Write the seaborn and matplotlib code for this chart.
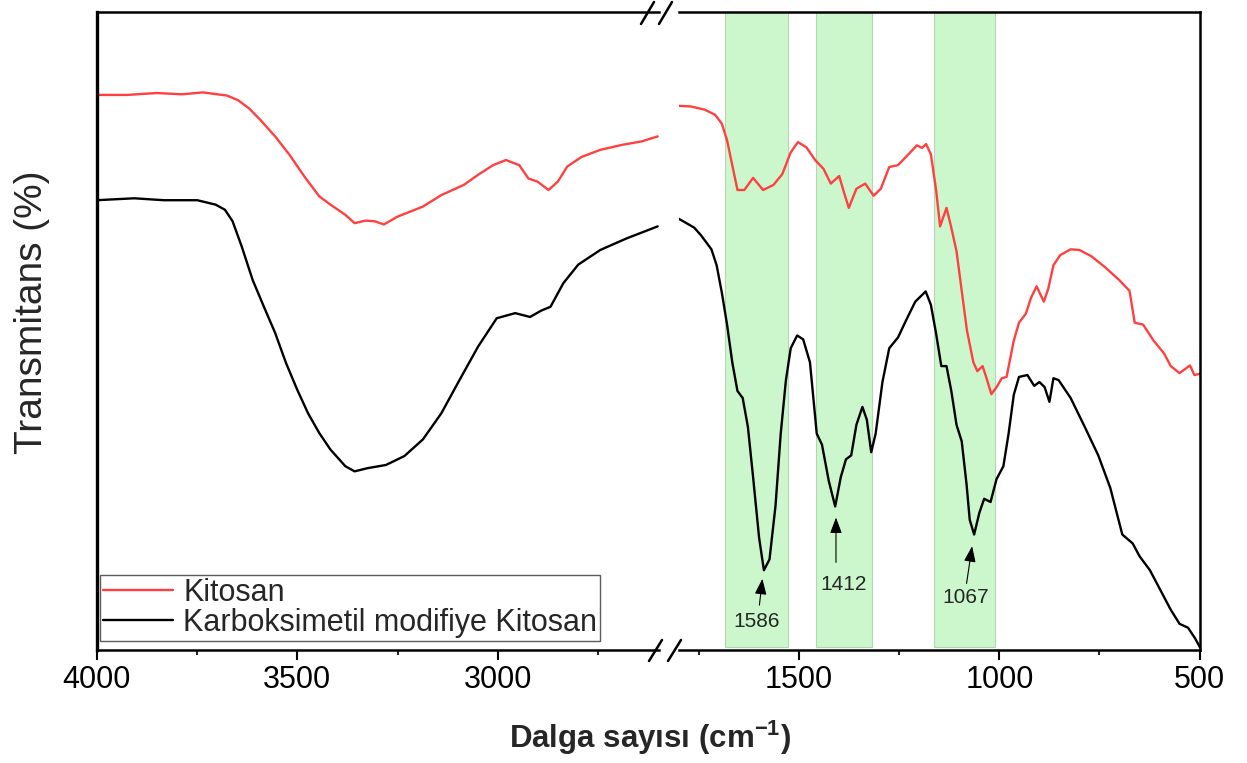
import numpy as np
import matplotlib
matplotlib.use("Agg")
import matplotlib.pyplot as plt
from matplotlib.lines import Line2D
import seaborn as sns

# FTIR spectra, high-wavenumber segment (4000-2600 cm-1)
kitosan_hi_wn = [4000, 3924, 3850, 3786, 3735, 3675, 3648, 3620, 3592, 3555, 3519, 3482,
                 3445, 3417, 3380, 3357, 3330, 3307, 3284, 3251, 3187, 3141, 3085, 3049,
                 3012, 2980, 2947, 2924, 2901, 2874, 2851, 2827, 2791, 2745, 2689, 2643, 2602]
kitosan_hi_t = [87.0, 87.0, 87.3, 87.1, 87.4, 86.9, 86.2, 84.9, 83.1, 80.5, 77.6, 74.2,
                71.1, 69.8, 68.2, 66.9, 67.3, 67.2, 66.7, 67.9, 69.5, 71.3, 72.9, 74.5,
                76.0, 76.8, 76.0, 73.9, 73.4, 72.1, 73.4, 75.8, 77.3, 78.4, 79.2, 79.7, 80.5]

cmk_hi_wn = [4000, 3906, 3832, 3749, 3703, 3680, 3661, 3638, 3611, 3583, 3555, 3528,
             3500, 3473, 3445, 3417, 3380, 3357, 3325, 3279, 3233, 3187, 3141, 3095,
             3049, 3003, 2957, 2920, 2892, 2869, 2837, 2800, 2745, 2680, 2602]
cmk_hi_t = [70.5, 70.8, 70.5, 70.5, 69.8, 69.0, 67.2, 63.2, 58.0, 53.8, 49.7, 45.0,
            40.8, 37.1, 34.0, 31.4, 28.8, 28.0, 28.5, 29.0, 30.4, 33.0, 37.1, 42.4,
            47.6, 52.0, 52.8, 52.2, 53.2, 53.8, 57.5, 60.4, 62.7, 64.5, 66.4]

# FTIR spectra, fingerprint segment (1800-500 cm-1)
kitosan_lo_wn = [1801, 1771, 1736, 1710, 1693, 1680, 1667, 1654, 1637, 1615, 1590, 1564,
                 1542, 1521, 1503, 1482, 1460, 1439, 1421, 1400, 1387, 1376, 1357, 1335,
                 1314, 1296, 1275, 1253, 1227, 1206, 1193, 1183, 1171, 1158, 1148, 1132,
                 1120, 1107, 1094, 1081, 1065, 1055, 1042, 1033, 1020, 1007, 994, 982,
                 964, 951, 934, 921, 907, 889, 878, 865, 848, 822, 800, 770, 736, 701,
                 675, 662, 641, 615, 589, 572, 550, 524, 513, 499]
kitosan_lo_t = [85.3, 85.2, 84.7, 83.9, 82.5, 79.9, 76.0, 72.1, 72.1, 74.0, 72.1, 72.9,
                74.6, 78.0, 79.6, 78.8, 76.8, 75.4, 73.1, 74.3, 71.5, 69.3, 72.3, 73.1,
                71.2, 72.3, 75.7, 76.0, 77.7, 79.1, 78.7, 79.3, 77.7, 72.1, 66.4, 69.3,
                66.2, 62.5, 56.3, 50.1, 45.1, 43.7, 44.5, 42.8, 40.1, 41.2, 42.6, 42.8,
                48.5, 51.3, 52.7, 55.2, 57.0, 54.6, 56.6, 60.3, 61.9, 62.8, 62.7, 61.7,
                60.0, 58.0, 56.3, 51.3, 51.0, 48.5, 46.5, 44.5, 43.4, 44.6, 43.1, 43.3]

cmk_lo_wn = [1801, 1784, 1762, 1745, 1732, 1719, 1706, 1693, 1680, 1667, 1654, 1641,
             1628, 1615, 1600, 1588, 1574, 1559, 1546, 1533, 1521, 1505, 1490, 1473,
             1456, 1443, 1426, 1410, 1396, 1383, 1370, 1357, 1342, 1331, 1320, 1309,
             1292, 1275, 1253, 1232, 1210, 1184, 1171, 1158, 1145, 1132, 1120, 1107,
             1094, 1082, 1074, 1063, 1050, 1038, 1022, 1007, 990, 977, 964, 951, 930,
             913, 900, 887, 875, 865, 852, 822, 787, 753, 723, 693, 667, 650, 624,
             598, 572, 550, 529, 511, 499]
cmk_lo_t = [67.6, 67.0, 66.2, 65.0, 63.9, 62.8, 60.3, 56.0, 51.0, 45.1, 40.6, 39.5,
            35.0, 27.1, 17.6, 12.5, 14.2, 22.6, 33.9, 42.3, 47.3, 49.3, 48.7, 45.1,
            33.9, 32.2, 26.5, 22.5, 27.1, 29.9, 30.5, 35.3, 38.1, 36.1, 31.0, 33.9,
            42.0, 47.3, 49.0, 51.8, 54.6, 56.2, 54.1, 49.6, 44.5, 44.5, 40.6, 35.3,
            32.7, 26.0, 20.4, 18.1, 21.5, 23.7, 23.2, 26.8, 28.8, 33.9, 40.0, 42.8,
            43.1, 41.4, 42.0, 41.2, 38.9, 42.6, 42.3, 39.5, 35.0, 30.5, 25.4, 18.1,
            16.7, 14.7, 12.5, 9.4, 6.3, 4.1, 3.5, 1.8, 0.4]

# Highlighted absorption regions (cm-1) and labelled peaks
bands = [(1685, 1527), (1457, 1317), (1162, 1010)]
peak_labels = ["1586", "1412", "1067"]
peak_tips = [(1591, 11.6), (1408, 21.2), (1067, 16.7)]
peak_tails = [(1600, 6.6), (1408, 13.3), (1083, 10.0)]
peak_text = [(1607, 4.4), (1388, 10.2), (1085, 8.2)]

series_names = ["Kitosan", "Karboksimetil modifiye Kitosan"]
series_colors = ["#ff4040", "#000000"]

sns.set_theme(style="white")
plt.rcParams["font.family"] = ["Liberation Sans", "DejaVu Sans"]
plt.rcParams["mathtext.fontset"] = "custom"
plt.rcParams["mathtext.rm"] = "Liberation Sans"
plt.rcParams["mathtext.bf"] = "Liberation Sans:bold"

W, H = 1247, 763
fig = plt.figure(figsize=(W / 100, H / 100), dpi=100)
fig.patch.set_facecolor("white")


def fx(px):
    return px / W


def fy(py):
    return 1 - py / H


ax_l = fig.add_axes([fx(96.5), fy(650), fx(658.5) - fx(96.5), fy(12) - fy(650)])
ax_r = fig.add_axes([fx(679), fy(650), fx(1199.6) - fx(679), fy(12) - fy(650)])

lw = 1.7
sns.lineplot(x=kitosan_hi_wn, y=kitosan_hi_t, ax=ax_l, color=series_colors[0], lw=lw,
             sort=False, estimator=None, label=series_names[0])
sns.lineplot(x=cmk_hi_wn, y=cmk_hi_t, ax=ax_l, color=series_colors[1], lw=lw,
             sort=False, estimator=None, label=series_names[1])
sns.lineplot(x=kitosan_lo_wn, y=kitosan_lo_t, ax=ax_r, color=series_colors[0], lw=lw,
             sort=False, estimator=None, legend=False)
sns.lineplot(x=cmk_lo_wn, y=cmk_lo_t, ax=ax_r, color=series_colors[1], lw=lw,
             sort=False, estimator=None, legend=False)

for lo, hi in bands:
    ax_r.axvspan(hi, lo, ymin=0.005, ymax=1, facecolor="#ccf7cc", edgecolor="#b5d6b5",
                 lw=0.8, zorder=0)

for lab, tip, tail, txt in zip(peak_labels, peak_tips, peak_tails, peak_text):
    ax_r.annotate("", xy=tip, xytext=tail,
                  arrowprops=dict(arrowstyle="-|>,head_length=0.8,head_width=0.3",
                                  color="black", lw=0.8))
    ax_r.text(txt[0], txt[1], lab, ha="center", va="center", fontsize=15)

ax_l.set_xlim(4000, 2600)
ax_r.set_xlim(1800, 500)
for ax in (ax_l, ax_r):
    ax.set_ylim(0, 100)
    ax.set_yticks([])
    ax.set_xlabel("")
    ax.set_ylabel("")
    ax.tick_params(axis="x", which="major", direction="out", length=7, width=1.5,
                   labelsize=22, pad=4, bottom=True, colors="black")
    ax.tick_params(axis="x", which="minor", direction="out", length=3.6, width=1.5,
                   bottom=True)
    for s in ax.spines.values():
        s.set_linewidth(1.8)
        s.set_color("black")

ax_l.set_xticks([4000, 3500, 3000])
ax_l.set_xticks([3750, 3250, 2750], minor=True)
ax_r.set_xticks([1500, 1000, 500])
ax_r.set_xticks([1750, 1250, 750], minor=True)
ax_l.spines["right"].set_visible(False)
ax_r.spines["left"].set_visible(False)
ax_l.spines["left"].set_linewidth(2.4)

leg = ax_l.legend(loc="upper left", bbox_to_anchor=(0.006, 0.118), borderaxespad=0,
                  fontsize=22, frameon=True, fancybox=False, handlelength=2.3,
                  handletextpad=0.33, labelspacing=0.0, borderpad=0.1)
leg.get_frame().set_edgecolor("#333333")
leg.get_frame().set_linewidth(1.0)

# axis break marks
for x0 in (649, 668):
    fig.add_artist(Line2D([fx(x0), fx(x0 + 13)], [fy(661), fy(640)], color="black", lw=1.8))
for x0 in (641, 659):
    fig.add_artist(Line2D([fx(x0), fx(x0 + 13)], [fy(24), fy(2)], color="black", lw=1.8))

fig.text(fx(32), fy(312), "Transmitans (%)", rotation=90, ha="center", va="center",
         fontsize=28)
fig.text(fx(650), fy(738), r"Dalga sayısı (cm$^{\mathbf{-1}}$)", ha="center",
         va="center", fontsize=22.5, fontweight="bold")

fig.savefig("out.png", dpi=100)
